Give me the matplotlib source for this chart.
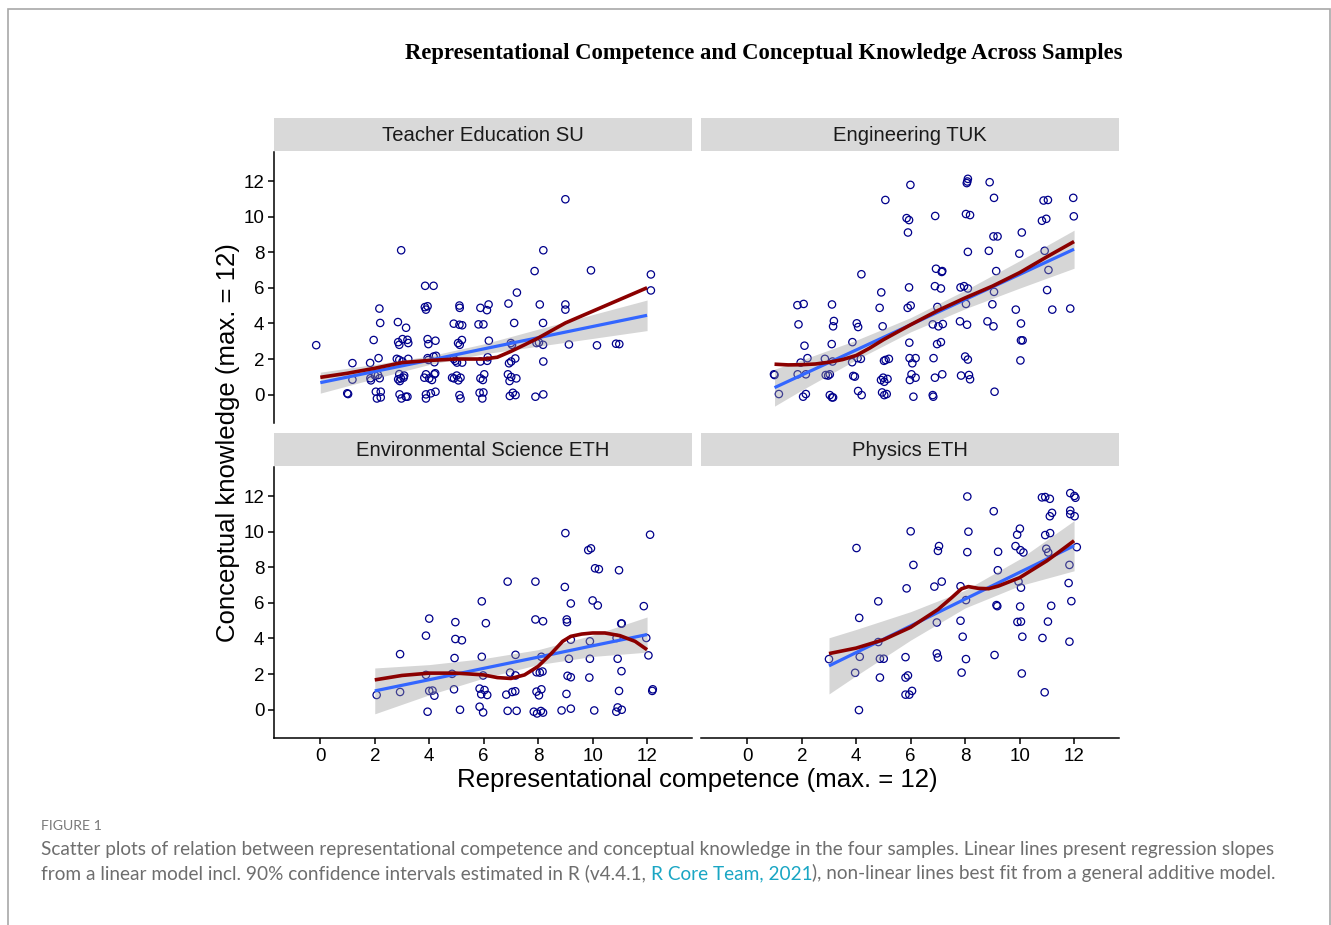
import numpy as np
import matplotlib
matplotlib.use("Agg")
import matplotlib.pyplot as plt
from matplotlib.patches import Rectangle

plt.rcParams['font.family'] = ['Liberation Sans', 'DejaVu Sans']

# ==========================================
# data (jittered points as drawn)
# ==========================================
panel_names = ["Teacher Education SU", "Engineering TUK",
               "Environmental Science ETH", "Physics ETH"]

su_x = [-0.15, 1.18, 1.18, 0.99, 1.02, 1.83, 2.14, 1.96, 2.17, 2.20,
        1.84, 1.86, 2.18, 2.12, 2.01, 2.04, 2.22, 2.08, 2.22,
        2.97, 2.85, 3.15, 2.86, 3.02, 3.20, 2.90, 3.23,
        2.81, 3.02, 3.23, 2.90, 2.90, 2.86, 3.06, 2.92, 3.08, 2.96,
        2.91, 2.98, 3.14, 3.20, 3.85, 4.16, 3.84, 3.94, 3.88,
        3.94, 4.23, 3.97, 3.94, 4.16, 4.25, 4.19, 3.97,
        3.88, 4.00, 4.19, 3.82, 4.10, 4.22, 3.88, 3.88, 4.06, 4.23,
        4.90, 5.11, 5.21, 5.11, 5.12, 5.20, 5.06, 5.12, 4.90, 5.02,
        5.21, 4.96, 4.84, 5.01, 5.15, 5.07, 4.91, 5.11, 5.15,
        5.88, 6.18, 6.12, 5.81, 5.99, 6.19, 5.88, 6.13, 6.15, 6.02,
        5.88, 5.97, 5.85, 5.99, 5.95, 6.91, 7.22, 7.12, 7.00, 7.04,
        6.93, 7.01, 7.16, 6.89, 7.01, 6.95, 7.20, 6.96, 7.07, 7.17,
        7.87, 8.19, 8.06, 8.18, 7.94, 8.18, 8.03, 8.19, 7.90, 8.19,
        9.00, 9.00, 9.00, 9.13, 9.94, 10.16, 10.86, 10.98, 12.14, 12.14]
su_y = [2.78, 1.77, 0.84, 0.07, 0.03, 1.78, 2.05, 3.07, 4.84, 4.03,
        0.92, 0.80, 0.92, 1.10, 1.07, 0.16, 0.16, -0.22, -0.16,
        8.12, 4.08, 3.76, 2.95, 3.12, 3.08, 2.80, 2.90,
        2.01, 1.86, 2.01, 1.95, 1.15, 0.86, 0.95, 0.76, 1.07, 0.91,
        0.01, -0.22, -0.12, -0.12, 6.12, 6.12, 4.92, 4.97, 4.78,
        3.12, 3.03, 2.84, 2.05, 2.14, 2.18, 1.82, 1.95,
        1.14, 0.91, 1.14, 0.95, 0.82, 1.20, 0.01, -0.22, 0.07, 0.16,
        3.99, 3.93, 3.90, 5.01, 4.88, 3.07, 2.90, 2.80, 2.01, 1.80,
        1.80, 1.90, 0.95, 1.07, 0.95, 0.80, 0.91, -0.03, -0.22,
        4.88, 5.07, 4.75, 3.95, 3.95, 3.03, 1.86, 1.90, 2.10, 1.14,
        0.91, 0.82, 0.10, 0.12, -0.22, 5.12, 5.74, 4.03, 2.90, 2.80,
        1.76, 1.86, 2.03, 1.14, 0.99, 0.76, 0.91, -0.08, 0.10, -0.03,
        6.95, 8.12, 5.07, 4.03, 2.90, 2.80, 2.93, 1.86, -0.12, 0.01,
        10.99, 5.07, 4.78, 2.82, 6.99, 2.77, 2.86, 2.84, 6.76, 5.86]

tuk_x = [1.00, 0.98, 1.16, 1.84, 2.07, 1.88, 2.10, 1.96, 2.21, 1.85,
         2.15, 2.05, 2.15, 3.11, 3.18, 3.15, 3.10, 2.85, 3.13, 2.88,
         2.97, 3.03, 3.03, 3.15, 3.11, 4.19, 4.02, 4.07, 3.86, 3.85,
         4.05, 4.17, 3.89, 3.95, 4.07, 4.20, 5.07, 4.92, 4.86, 4.97,
         5.02, 5.08, 5.20, 4.91, 4.99, 5.15, 5.03, 4.95, 5.03, 5.12,
         5.99, 5.85, 5.94, 5.90, 5.94, 5.89, 6.00, 5.95, 5.96, 6.18,
         6.06, 6.03, 6.18, 5.97, 6.10, 6.90, 6.93, 7.14, 7.16, 6.89,
         7.11, 6.98, 6.81, 7.02, 7.18, 6.97, 7.11, 6.84, 6.89, 7.16,
         6.81, 6.83, 8.10, 8.06, 8.08, 8.03, 8.18, 8.10, 7.83, 7.96,
         8.10, 8.03, 7.81, 8.07, 8.00, 8.10, 7.85, 8.14, 8.18, 8.90,
         9.06, 9.04, 9.19, 8.87, 9.14, 9.06, 9.00, 8.82, 9.04, 9.08,
         10.08, 9.99, 9.86, 10.05, 10.11, 10.05, 10.03, 10.88, 11.04,
         10.82, 10.98, 10.92, 11.06, 11.01, 11.20, 11.97, 11.99, 11.86]
tuk_y = [1.10, 1.14, 0.03, 5.03, 5.10, 3.95, 2.75, 1.80, 2.05, 1.14,
         1.14, -0.12, 0.03, 5.07, 4.14, 3.84, 2.84, 2.01, 1.86, 1.10,
         1.07, 1.14, -0.03, -0.16, -0.16, 6.77, 4.01, 3.80, 2.95, 1.82,
         2.05, 2.01, 1.05, 1.01, 0.20, -0.03, 10.95, 5.75, 4.88, 3.84,
         1.90, 1.95, 2.01, 0.82, 0.95, 0.88, 0.72, 0.12, -0.03, 0.03,
         11.80, 9.93, 9.82, 9.12, 6.03, 4.88, 5.01, 2.92, 2.05, 2.05,
         1.76, 1.14, 0.95, 0.82, -0.12, 10.05, 7.08, 6.90, 6.95, 6.10,
         5.97, 4.93, 3.95, 3.84, 3.97, 2.84, 2.95, 2.05, 0.95, 1.14,
         -0.03, -0.12, 12.14, 11.90, 11.99, 10.16, 10.10, 8.03, 6.03, 6.10,
         5.97, 5.10, 4.12, 3.93, 2.14, 1.97, 1.07, 1.10, 0.86, 11.95,
         11.07, 8.90, 8.90, 8.09, 6.95, 5.78, 5.08, 4.12, 3.84, 0.16,
         9.12, 7.93, 4.78, 4.00, 3.05, 3.05, 1.92, 10.92, 10.95,
         9.78, 9.89, 8.09, 7.01, 5.88, 4.78, 11.07, 10.03, 4.84]

eth_env_x = [2.07, 2.93, 2.93, 3.88, 4.00, 3.88, 4.00, 4.12, 4.19, 3.94,
             4.96, 4.96, 5.20, 4.93, 4.84, 4.91, 5.13, 5.93, 6.08, 5.93,
             5.98, 5.85, 6.03, 5.91, 6.13, 5.85, 5.98, 6.88, 7.17, 6.97,
             7.17, 6.83, 7.05, 7.16, 6.88, 7.21, 7.90, 7.90, 8.18, 8.12,
             7.94, 8.06, 8.16, 7.94, 8.03, 8.12, 7.84, 7.96, 8.10, 8.18,
             9.00, 8.98, 9.20, 9.05, 9.06, 9.20, 9.13, 9.08, 9.20, 9.04,
             8.86, 9.20, 9.84, 9.94, 10.09, 10.23, 10.00, 10.19, 9.90,
             9.90, 9.88, 10.06, 10.97, 11.05, 11.07, 10.88, 10.92, 11.06,
             10.97, 10.92, 11.07, 10.87, 11.88, 12.11, 11.97, 12.05,
             12.21, 12.19]
eth_env_y = [0.82, 3.12, 0.99, 4.16, 5.12, 1.95, 1.05, 1.07, 0.78, -0.12,
             4.92, 3.97, 3.90, 2.90, 2.01, 1.14, -0.01, 6.09, 4.86, 2.97,
             1.92, 1.18, 1.10, 0.86, 0.82, 0.16, -0.16, 7.20, 3.08, 2.08,
             1.92, 0.84, 0.99, 1.03, -0.07, -0.07, 7.20, 5.07, 4.97, 2.97,
             2.10, 2.08, 2.14, 1.01, 0.80, 1.14, -0.12, -0.22, -0.08, -0.17,
             9.93, 6.90, 5.97, 5.07, 4.92, 3.93, 2.86, 1.90, 1.82, 0.88,
             -0.05, 0.05, 8.97, 9.07, 7.95, 7.90, 6.14, 5.86, 3.84,
             2.86, 1.80, -0.05, 7.84, 4.84, 4.84, 4.03, 2.86, 2.16,
             1.05, 0.12, -0.01, -0.12, 5.82, 9.84, 4.03, 3.05,
             1.14, 1.05]

phy_x = [3.00, 4.01, 4.11, 3.96, 4.13, 4.10, 4.81, 4.81, 4.87, 5.01,
         4.87, 6.00, 6.10, 5.85, 5.81, 5.81, 5.90, 5.81, 5.95, 6.05,
         7.04, 7.00, 7.14, 6.87, 6.96, 6.96, 7.00, 8.08, 8.12, 8.08,
         7.83, 8.03, 7.83, 7.91, 8.03, 7.87, 9.05, 9.21, 9.20, 9.15,
         9.18, 9.08, 10.01, 9.91, 9.85, 10.03, 10.14, 9.96, 10.05,
         10.02, 9.92, 10.05, 10.10, 10.08, 10.82, 10.94, 11.11, 11.11,
         11.19, 10.94, 11.12, 10.98, 11.05, 11.16, 11.04, 10.84, 10.92,
         11.86, 12.05, 12.01, 11.86, 11.86, 12.02, 12.10, 11.83, 11.80,
         11.90, 11.83]
phy_y = [2.84, 9.09, 5.16, 2.07, 2.97, -0.03, 6.09, 3.80, 2.86, 2.86,
         1.80, 10.03, 8.14, 6.82, 2.95, 1.80, 1.92, 0.84, 0.84, 1.05,
         9.20, 8.93, 7.20, 6.92, 4.90, 3.16, 2.93, 11.99, 10.01, 8.86,
         6.94, 6.16, 5.00, 4.10, 2.84, 2.08, 11.16, 8.88, 7.84, 5.88,
         5.82, 3.07, 10.18, 9.84, 9.20, 8.97, 8.84, 7.20, 6.86,
         5.80, 4.93, 4.95, 4.10, 2.03, 11.94, 11.96, 11.86, 10.88,
         11.07, 9.82, 9.93, 9.05, 8.84, 5.84, 4.95, 4.03, 0.97,
         12.18, 11.92, 12.02, 11.20, 11.00, 10.88, 9.14, 8.14, 7.12,
         6.10, 3.82]

# linear fit (blue) with 90% band, read at a few x positions
su_lin_x = [0, 2, 4, 6, 8, 10, 12]
su_lin_y = [0.67, 1.30, 1.93, 2.57, 3.20, 3.83, 4.46]
su_lin_se = [0.59, 0.40, 0.24, 0.28, 0.48, 0.67, 0.86]
tuk_lin_x = [1, 2, 4, 6, 8, 10, 12]
tuk_lin_y = [0.39, 1.10, 2.51, 3.93, 5.35, 6.76, 8.18]
tuk_lin_se = [1.04, 0.85, 0.55, 0.40, 0.52, 0.77, 1.07]
env_lin_x = [2, 4, 6, 8, 10, 12]
env_lin_y = [1.05, 1.68, 2.32, 2.95, 3.59, 4.22]
env_lin_se = [1.29, 0.85, 0.55, 0.42, 0.60, 0.99]
phy_lin_x = [3, 4, 6, 8, 10, 12]
phy_lin_y = [2.46, 3.21, 4.71, 6.22, 7.72, 9.22]
phy_lin_se = [1.58, 1.30, 0.80, 0.50, 0.75, 1.41]

# GAM curves (dark red)
su_gam_x = [0, 1, 2, 3, 4, 5, 6, 6.5, 7, 7.5, 8, 9, 10, 11, 12]
su_gam_y = [0.97, 1.20, 1.48, 1.80, 1.92, 2.00, 2.00, 2.10, 2.43, 2.80,
            3.18, 4.03, 4.69, 5.35, 6.01]
tuk_gam_x = [1, 1.5, 2, 2.5, 3, 3.5, 4, 4.5, 5, 6, 7, 8, 9, 10, 11, 12]
tuk_gam_y = [1.71, 1.67, 1.68, 1.72, 1.82, 1.97, 2.20, 2.62, 3.09, 3.93,
             4.73, 5.44, 6.10, 6.86, 7.75, 8.61]
env_gam_x = [2, 3, 4, 5, 6, 6.5, 7, 7.5, 8, 8.5, 8.9, 9.2, 9.6, 10,
             10.45, 11, 11.56, 12]
env_gam_y = [1.67, 1.92, 2.05, 2.05, 1.95, 1.80, 1.75, 1.95, 2.43, 3.18,
             3.84, 4.12, 4.25, 4.31, 4.31, 4.16, 3.84, 3.37]
phy_gam_x = [3, 4, 5, 6, 7, 7.5, 7.87, 8.12, 8.49, 8.86, 9.22, 10, 11,
             11.5, 12]
phy_gam_y = [3.15, 3.46, 3.93, 4.63, 5.63, 6.29, 6.80, 6.92, 6.82, 6.80,
             6.95, 7.42, 8.37, 8.93, 9.50]

panels = [
    (su_x, su_y, su_lin_x, su_lin_y, su_lin_se, su_gam_x, su_gam_y),
    (tuk_x, tuk_y, tuk_lin_x, tuk_lin_y, tuk_lin_se, tuk_gam_x, tuk_gam_y),
    (eth_env_x, eth_env_y, env_lin_x, env_lin_y, env_lin_se, env_gam_x, env_gam_y),
    (phy_x, phy_y, phy_lin_x, phy_lin_y, phy_lin_se, phy_gam_x, phy_gam_y),
]

ticks = [0, 2, 4, 6, 8, 10, 12]

# ==========================================
# figure
# ==========================================
W, H = 1331, 925
fig = plt.figure(figsize=(W / 100, H / 100), dpi=100)

def fx(px):
    return px / W

def fy(py):
    return 1 - py / H

# outer frame
fig.patches.append(Rectangle((fx(8), fy(926)), fx(1330) - fx(8), fy(8.5) - fy(926),
                             transform=fig.transFigure, fill=False,
                             edgecolor='#a8a8a8', linewidth=1.2))

col_left = [274, 701]
panel_w = 418
row_top = [152, 467]
panel_h = 271
strip_h = 33

for i, (px, py, lx, ly, lse, gx, gy) in enumerate(panels):
    r, c = divmod(i, 2)
    x0 = col_left[c]
    y0 = row_top[r]
    ax = fig.add_axes([fx(x0), fy(y0 + panel_h), fx(panel_w), panel_h / H])

    ax.scatter(px, py, s=28, facecolors='none', edgecolors='#00008B',
               linewidths=0.9, zorder=2)
    lx = np.array(lx)
    ly = np.array(ly)
    lse = np.array(lse)
    ax.fill_between(lx, ly - lse, ly + lse, color='#999999', alpha=0.4,
                    linewidth=0, zorder=3)
    ax.plot(lx, ly, color='#3366FF', lw=2.3, zorder=4, solid_capstyle='butt')
    ax.plot(gx, gy, color='#8B0000', lw=2.6, zorder=5, solid_capstyle='butt')

    ax.set_xlim(-1.7, 13.65)
    ax.set_ylim(-1.6, 13.65)
    ax.set_xticks(ticks)
    ax.set_yticks(ticks)
    ax.spines['top'].set_visible(False)
    ax.spines['right'].set_visible(False)
    ax.spines['left'].set_visible(c == 0)
    ax.spines['bottom'].set_visible(r == 1)
    for sp in ax.spines.values():
        sp.set_linewidth(1.1)
    ax.tick_params(axis='both', length=4, width=1.1, labelsize=13.5,
                   colors='black', pad=3)
    if c != 0:
        ax.tick_params(axis='y', left=False, labelleft=False)
    if r != 1:
        ax.tick_params(axis='x', bottom=False, labelbottom=False)
    ax.set_facecolor('none')

    # facet strip
    sax = fig.add_axes([fx(x0), fy(y0 - 1), fx(panel_w), strip_h / H])
    sax.set_facecolor('#d9d9d9')
    sax.set_xticks([])
    sax.set_yticks([])
    for sp in sax.spines.values():
        sp.set_visible(False)
    sax.text(0.5, 0.47, panel_names[i], ha='center', va='center',
             fontsize=14.6, color='#1a1a1a', transform=sax.transAxes)

# titles and axis labels
fig.text(fx(764), fy(54), "Representational Competence and Conceptual Knowledge Across Samples",
         ha='center', va='center', fontsize=16.3, fontweight='bold',
         family=['Liberation Serif', 'DejaVu Serif'])
fig.text(fx(228), fy(443), "Conceptual knowledge (max. = 12)", rotation=90,
         ha='center', va='center', fontsize=18.5)
fig.text(fx(697), fy(780), "Representational competence (max. = 12)",
         ha='center', va='center', fontsize=18.5)

# caption
cap_font = ['Lato', 'DejaVu Sans']
cap_col = '#6e6e6e'
cap_size = 13.7
fig.text(fx(41), fy(826), "FIGURE 1", ha='left', va='center', fontsize=10.2,
         color='#7a7a7a', family=cap_font)
fig.text(fx(41), fy(849),
         "Scatter plots of relation between representational competence and conceptual "
         "knowledge in the four samples. Linear lines present regression slopes",
         ha='left', va='center', fontsize=cap_size, color=cap_col, family=cap_font)
t1 = fig.text(fx(41), fy(873),
              "from a linear model incl. 90% confidence intervals estimated in R (v4.4.1, ",
              ha='left', va='center', fontsize=cap_size, color=cap_col, family=cap_font)
t2 = fig.add_artist(plt.Annotation("R Core Team, 2021", xy=(1, 0), xycoords=t1,
                                   va='bottom', ha='left', fontsize=cap_size,
                                   color='#1aa6c4', family=cap_font))
fig.add_artist(plt.Annotation("), non-linear lines best fit from a general additive model.",
                              xy=(1, 0), xycoords=t2, va='bottom', ha='left',
                              fontsize=cap_size, color=cap_col, family=cap_font))

fig.savefig("out.png", dpi=100)
